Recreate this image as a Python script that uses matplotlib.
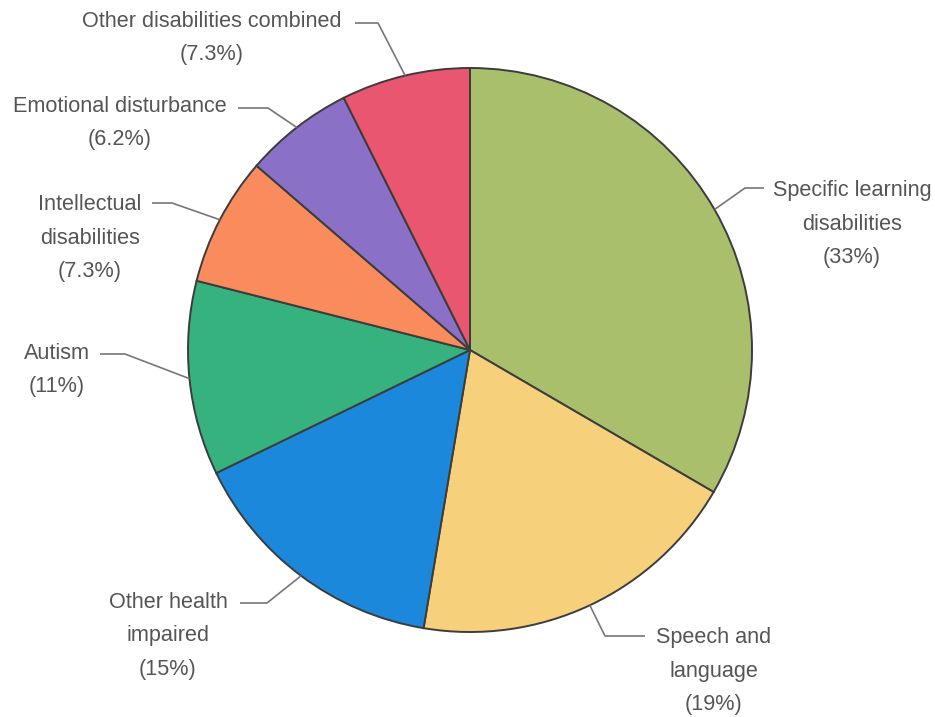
import matplotlib.pyplot as plt
import numpy as np

# data (clockwise from 12 o'clock)
categories = ['Specific learning\ndisabilities', 'Speech and\nlanguage', 'Other health\nimpaired',
              'Autism', 'Intellectual\ndisabilities', 'Emotional disturbance', 'Other disabilities combined']
shares = [33, 19, 15, 11, 7.3, 6.2, 7.3]
pct_labels = ['(33%)', '(19%)', '(15%)', '(11%)', '(7.3%)', '(6.2%)', '(7.3%)']
colors = ['#a9bf6b', '#f7d07c', '#1b88dc', '#36b27e', '#f98b5c', '#8a70c6', '#e8566f']

# layout (image pixels, y down): text centre, elbow, end of horizontal tick
text_pos = [(852, 224), (714, 671), (168, 636), (57, 370), (90, 238), (120, 123), (212, 38)]
elbow = [(745, 188), (605, 636), (267, 603), (125, 354), (172, 203), (268, 108), (378, 23)]
tick_end = [764, 645, 240, 100, 152, 238, 355]

W, H = 935, 717
fig = plt.figure(figsize=(W / 100, H / 100), dpi=100)
ax = fig.add_axes([0, 0, 1, 1])

cx, cy, r = 470, 350, 282
wedges, _ = ax.pie(shares, colors=colors, startangle=90, counterclock=False,
                   center=(cx, H - cy), radius=r,
                   wedgeprops=dict(edgecolor='#3c3c3c', linewidth=1.4))

txt_col = '#555555'
line_col = '#777777'
for i, w in enumerate(wedges):
    mid = np.deg2rad((w.theta1 + w.theta2) / 2)
    px = cx + r * np.cos(mid)
    py = (H - cy) + r * np.sin(mid)
    ex, ey = elbow[i]
    ax.plot([px, ex, tick_end[i]], [py, H - ey, H - ey], color=line_col, lw=1.2,
            solid_capstyle='butt', zorder=3)
    tx, ty = text_pos[i]
    ax.text(tx, H - ty, categories[i] + '\n' + pct_labels[i], ha='center', va='center',
            fontsize=15.6, family='Liberation Sans', color=txt_col, linespacing=1.8,
            multialignment='center')

ax.set_xlim(0, W)
ax.set_ylim(0, H)
ax.set_aspect('equal')
ax.axis('off')

fig.savefig('out.png', dpi=100, facecolor='white')
